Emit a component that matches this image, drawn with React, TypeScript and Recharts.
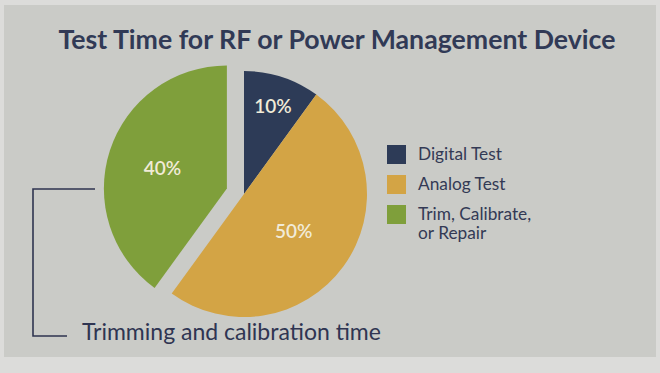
import { Pie, PieChart, Cell, Legend } from "recharts";

const categories = ["Digital Test", "Analog Test", "Trim, Calibrate, or Repair"];
const legendLines = [["Digital Test"], ["Analog Test"], ["Trim, Calibrate,", "or Repair"]];
const shares = [10, 50, 40];
const colors = ["#2d3b57", "#d3a445", "#7f9f3b"];
const explodedIndex = 2;

const data = categories.map((name, i) => ({ name, value: shares[i] }));

const CX = 239;
const CY = 189;
const R = 123;
const EXPLODE = 18;

// offset of the exploded slice along its bisector
function explodeOffset() {
  const total = shares.reduce((a, b) => a + b, 0);
  const before = shares.slice(0, explodedIndex).reduce((a, b) => a + b, 0);
  const mid = 90 - ((before + shares[explodedIndex] / 2) / total) * 360;
  const rad = (mid * Math.PI) / 180;
  return { dx: Math.cos(rad) * EXPLODE, dy: -Math.sin(rad) * EXPLODE };
}

function makeLabel(only: "main" | "exploded") {
  return (props: any) => {
    const { cx, cy, midAngle, outerRadius, index, value } = props;
    const isExploded = index === explodedIndex;
    if ((only === "main") === isExploded) return null;
    const k = value < 20 ? 0.76 : value > 45 ? 0.5 : 0.55;
    const rad = (midAngle * Math.PI) / 180;
    const x = cx + Math.cos(rad) * outerRadius * k;
    const y = cy - Math.sin(rad) * outerRadius * k;
    return (
      <text
        x={x}
        y={y}
        textAnchor="middle"
        dominantBaseline="central"
        fill="#f1ebd8"
        fontSize={19}
        fontWeight={600}
        fontFamily="Lato, 'Open Sans', sans-serif"
      >
        {`${value}%`}
      </text>
    );
  };
}

function LegendBox() {
  return (
    <div style={{ fontFamily: "Lato, 'Open Sans', sans-serif", color: "#333a55", fontSize: 17.3 }}>
      {categories.map((c, i) => (
        <div key={c} style={{ display: "flex", alignItems: "flex-start", marginBottom: 11 }}>
          <div style={{ width: 19, height: 19, background: colors[i], marginRight: 12, flexShrink: 0 }} />
          <div style={{ lineHeight: "19px", marginTop: -1 }}>
            {legendLines[i].map((l) => (
              <div key={l}>{l}</div>
            ))}
          </div>
        </div>
      ))}
    </div>
  );
}

export default function App() {
  const { dx, dy } = explodeOffset();
  return (
    <div style={{ position: "fixed", left: 0, top: 0, width: 660, height: 373, background: "#dcdcda", overflow: "hidden" }}>
      <div style={{ position: "absolute", left: 4, top: 5, width: 652, height: 352, background: "#cacbc7" }} />
      <div
        style={{
          position: "absolute",
          left: 0,
          top: 23,
          width: 674,
          textAlign: "center",
          fontFamily: "Lato, 'Open Sans', sans-serif",
          fontWeight: 700,
          fontSize: 26.7,
          color: "#313a56",
        }}
      >
        Test Time for RF or Power Management Device
      </div>
      <div style={{ position: "absolute", left: 0, top: 0 }}>
        <PieChart width={660} height={373}>
          <Pie
            data={data}
            dataKey="value"
            cx={CX}
            cy={CY}
            outerRadius={R}
            startAngle={90}
            endAngle={-270}
            stroke="none"
            isAnimationActive={false}
            label={makeLabel("main")}
            labelLine={false}
          >
            {data.map((d, i) => (
              <Cell key={d.name} fill={i === explodedIndex ? "transparent" : colors[i]} />
            ))}
          </Pie>
          <Pie
            data={data}
            dataKey="value"
            cx={CX + dx}
            cy={CY + dy}
            outerRadius={R}
            startAngle={90}
            endAngle={-270}
            stroke="none"
            isAnimationActive={false}
            label={makeLabel("exploded")}
            labelLine={false}
          >
            {data.map((d, i) => (
              <Cell key={d.name} fill={i === explodedIndex ? colors[i] : "transparent"} />
            ))}
          </Pie>
          <Legend
            layout="vertical"
            content={() => <LegendBox />}
            wrapperStyle={{ position: "absolute", left: 387, top: 145, width: 210 }}
          />
        </PieChart>
      </div>
      <svg style={{ position: "absolute", left: 0, top: 0 }} width={660} height={373}>
        <polyline points="95,189 33,189 33,336 67,336" fill="none" stroke="#2f3550" strokeWidth={1.6} />
      </svg>
      <div
        style={{
          position: "absolute",
          left: 82,
          top: 317,
          fontFamily: "Lato, 'Open Sans', sans-serif",
          fontSize: 23,
          color: "#2f3552",
        }}
      >
        Trimming and calibration time
      </div>
    </div>
  );
}
